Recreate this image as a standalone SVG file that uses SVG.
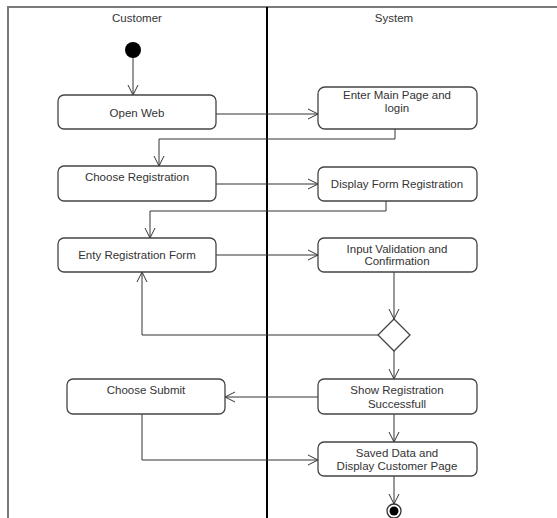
<svg xmlns="http://www.w3.org/2000/svg" width="557" height="518" viewBox="0 0 557 518">
<style>
.lane{stroke:#7a7a7a;stroke-width:2;fill:none}
.div{stroke:#000;stroke-width:2;fill:none}
.box{fill:#fff;stroke:#444;stroke-width:1.3}
.t{font-family:"Liberation Sans",Arial,sans-serif;font-size:11.5px;fill:#333;text-anchor:middle}
.c{fill:none;stroke:#333;stroke-width:1}
</style>
<defs>
<marker id="a" viewBox="0 0 12 12" refX="11" refY="6" markerWidth="12" markerHeight="12" markerUnits="userSpaceOnUse" orient="auto">
<path d="M1,1 L11,6 L1,11" fill="none" stroke="#333" stroke-width="1"/>
</marker>
</defs>
<rect width="557" height="518" fill="#fff"/>
<g id="lanes">
<path class="lane" d="M8,518 V7 H557"/>
<path class="div" d="M267,7 V518"/>
<text class="t" x="137" y="22">Customer</text>
<text class="t" x="394" y="22">System</text>
</g>
<g id="connectors">
<path class="c" d="M133,58 V95" marker-end="url(#a)"/>
<path class="c" d="M216,114 H318" marker-end="url(#a)"/>
<path class="c" d="M395,129 V139 H159 V166" marker-end="url(#a)"/>
<path class="c" d="M216,184 H318" marker-end="url(#a)"/>
<path class="c" d="M386,201 V211 H150 V238" marker-end="url(#a)"/>
<path class="c" d="M216,255 H318" marker-end="url(#a)"/>
<path class="c" d="M394,272 V319" marker-end="url(#a)"/>
<path class="c" d="M378,335 H142 V272" marker-end="url(#a)"/>
<path class="c" d="M394,351 V379" marker-end="url(#a)"/>
<path class="c" d="M318,397 H225" marker-end="url(#a)"/>
<path class="c" d="M142,414 V460 H318" marker-end="url(#a)"/>
<path class="c" d="M394,414 V442" marker-end="url(#a)"/>
<path class="c" d="M394,476 V504" marker-end="url(#a)"/>
</g>
<g id="start"><circle cx="133" cy="50" r="8" fill="#000"/></g>
<g id="openWeb"><rect class="box" x="58" y="95" width="158" height="34" rx="6"/><text class="t" x="137" y="117">Open Web</text></g>
<g id="enterMain"><rect class="box" x="318" y="87" width="159" height="42" rx="7"/><text class="t" x="397" y="99">Enter Main Page and</text><text class="t" x="397" y="112">login</text></g>
<g id="chooseReg"><rect class="box" x="58" y="166" width="158" height="35" rx="6"/><text class="t" x="137" y="181">Choose Registration</text></g>
<g id="displayForm"><rect class="box" x="318" y="167" width="159" height="34" rx="6"/><text class="t" x="397" y="188">Display Form Registration</text></g>
<g id="entyReg"><rect class="box" x="58" y="238" width="158" height="34" rx="6"/><text class="t" x="137" y="259">Enty Registration Form</text></g>
<g id="inputVal"><rect class="box" x="318" y="238" width="159" height="34" rx="6"/><text class="t" x="397" y="253">Input Validation and</text><text class="t" x="397" y="265">Confirmation</text></g>
<g id="decision"><path class="box" d="M394,319 L410,335 L394,351 L378,335 Z"/></g>
<g id="chooseSubmit"><rect class="box" x="67" y="379" width="158" height="35" rx="6"/><text class="t" x="146" y="394">Choose Submit</text></g>
<g id="showReg"><rect class="box" x="318" y="379" width="159" height="35" rx="6"/><text class="t" x="397" y="394">Show Registration</text><text class="t" x="397" y="408">Successfull</text></g>
<g id="savedData"><rect class="box" x="318" y="442" width="159" height="34" rx="6"/><text class="t" x="397" y="457">Saved Data and</text><text class="t" x="397" y="470">Display Customer Page</text></g>
<g id="end"><circle cx="394" cy="511" r="7" fill="#fff" stroke="#333" stroke-width="1.3"/><circle cx="394" cy="511" r="4.5" fill="#000"/></g>
</svg>
